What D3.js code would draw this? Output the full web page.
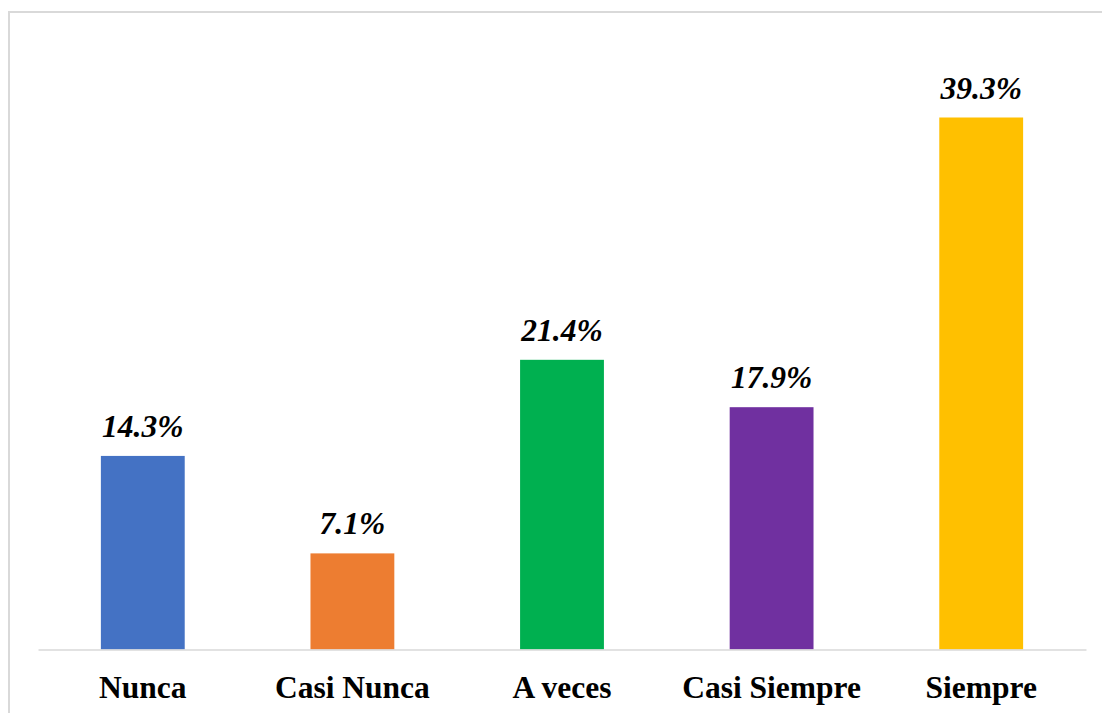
<!DOCTYPE html>
<html>
<head>
<meta charset="utf-8">
<script src="https://cdn.jsdelivr.net/npm/d3@7"></script>
<style>
  html, body { margin: 0; padding: 0; background: #fff; }
  svg { display: block; }
</style>
</head>
<body>
<div id="chart"></div>
<script>
  // data
  var categories = ['Nunca', 'Casi Nunca', 'A veces', 'Casi Siempre', 'Siempre'];
  var values = [14.3, 7.1, 21.4, 17.9, 39.3];
  var colors = ['#4472c4', '#ed7d31', '#00b050', '#7030a0', '#ffc000'];

  var width = 1102, height = 713;
  var baseY = 649.5;

  var svg = d3.select('#chart').append('svg')
    .attr('width', width)
    .attr('height', height);

  // chart border (runs off the right and bottom edge)
  svg.append('rect')
    .attr('x', 9).attr('y', 12)
    .attr('width', 1110).attr('height', 720)
    .attr('fill', 'none')
    .attr('stroke', '#d9d9d9')
    .attr('stroke-width', 2);

  var x = d3.scaleBand()
    .domain(categories)
    .range([38, 1086])
    .paddingInner(0.6)
    .paddingOuter(0.3);

  var y = d3.scaleLinear()
    .domain([0, 39.3])
    .range([baseY, 117.5]);

  var rows = categories.map(function (c, i) {
    return { cat: c, value: values[i], color: colors[i] };
  });

  svg.append('g').selectAll('rect')
    .data(rows)
    .enter().append('rect')
    .attr('x', function (d) { return x(d.cat); })
    .attr('y', function (d) { return y(d.value); })
    .attr('width', x.bandwidth())
    .attr('height', function (d) { return baseY - y(d.value); })
    .attr('fill', function (d) { return d.color; });

  // axis line + category labels
  var axis = svg.append('g')
    .attr('transform', 'translate(0,' + baseY + ')')
    .call(d3.axisBottom(x).tickSize(0).tickPadding(0));
  axis.select('.domain').attr('stroke', '#d9d9d9').attr('stroke-width', 1.5);
  axis.selectAll('text')
    .attr('y', 48.5)
    .attr('dy', null)
    .attr('fill', '#000')
    .style('font-family', '"Liberation Serif", "Times New Roman", serif')
    .style('font-weight', 'bold')
    .style('font-size', '31.5px');

  // value labels
  svg.append('g').selectAll('text')
    .data(rows)
    .enter().append('text')
    .attr('x', function (d) { return x(d.cat) + x.bandwidth() / 2; })
    .attr('y', function (d) { return y(d.value) - 19; })
    .attr('text-anchor', 'middle')
    .style('font-family', '"Liberation Serif", "Times New Roman", serif')
    .style('font-weight', 'bold')
    .style('font-style', 'italic')
    .style('font-size', '31.5px')
    .attr('fill', '#000')
    .text(function (d) { return d.value.toFixed(1) + '%'; });
</script>
</body>
</html>
